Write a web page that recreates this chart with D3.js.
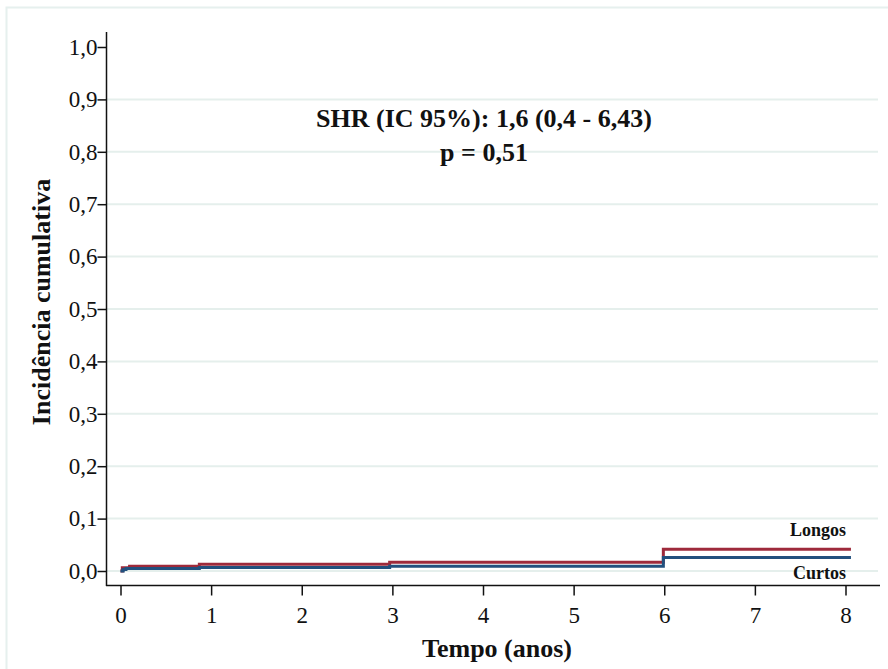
<!DOCTYPE html>
<html>
<head>
<meta charset="utf-8">
<script src="https://cdn.jsdelivr.net/npm/d3@7"></script>
<style>
  body { margin: 0; background: #fff; }
  svg text { font-family: "Liberation Serif", "Times New Roman", "DejaVu Serif", serif; fill: #111; }
</style>
</head>
<body>
<div id="chart"></div>
<script>
// step points: [time, cumulative incidence]
const longosTimes  = [0, 0.02, 0.1, 0.87, 2.97, 5.99, 8.06];
const longosValues = [0, 0.006, 0.009, 0.0128, 0.0166, 0.0414, 0.0414];
const curtosTimes  = [0, 0.03, 0.06, 0.87, 2.97, 5.99, 8.06];
const curtosValues = [0, 0.003, 0.0046, 0.0065, 0.0092, 0.0256, 0.0256];

const yTicks = [0, 0.1, 0.2, 0.3, 0.4, 0.5, 0.6, 0.7, 0.8, 0.9, 1.0];
const xTicks = [0, 1, 2, 3, 4, 5, 6, 7, 8];
const gridTicks = [0, 0.1, 0.2, 0.3, 0.4, 0.5, 0.6, 0.7, 0.8, 0.9];

const annotation = ["SHR (IC 95%): 1,6 (0,4 - 6,43)", "p = 0,51"];
const seriesLabels = ["Longos", "Curtos"];

const width = 888, height = 669;
const xScale = d3.scaleLinear().domain([0, 8]).range([120.5, 845.5]);
const yScale = d3.scaleLinear().domain([0, 1]).range([571, 47]);

const svg = d3.select("#chart").append("svg")
    .attr("width", width)
    .attr("height", height);

// outer frame
svg.append("rect")
    .attr("x", 6.5).attr("y", 7.5)
    .attr("width", 900).attr("height", 700)
    .attr("fill", "none")
    .attr("stroke", "#e6f0ee")
    .attr("stroke-width", 2);

// gridlines
svg.append("g")
    .selectAll("line")
    .data(gridTicks)
    .enter()
    .append("line")
    .attr("x1", 106).attr("x2", 878)
    .attr("y1", d => yScale(d)).attr("y2", d => yScale(d))
    .attr("stroke", "#e5efec")
    .attr("stroke-width", 2);

// series
const line = d3.line()
    .curve(d3.curveStepAfter)
    .x(d => xScale(d[0]))
    .y(d => yScale(d[1]));

const series = [
  { times: longosTimes, values: longosValues, color: "#9e2a3b" },
  { times: curtosTimes, values: curtosValues, color: "#22507e" }
];

svg.append("g")
    .selectAll("path")
    .data(series)
    .enter()
    .append("path")
    .attr("fill", "none")
    .attr("stroke", d => d.color)
    .attr("stroke-width", 3)
    .attr("d", d => line(d.times.map((t, i) => [t, d.values[i]])));

// axes
const xAxis = d3.axisBottom(xScale)
    .tickValues(xTicks)
    .tickSize(10)
    .tickPadding(11)
    .tickSizeOuter(0)
    .tickFormat(d3.format("d"));

const yAxis = d3.axisLeft(yScale)
    .tickValues(yTicks)
    .tickSize(9)
    .tickPadding(0)
    .tickSizeOuter(0)
    .tickFormat(d => d.toFixed(1).replace(".", ","));

const gx = svg.append("g")
    .attr("transform", "translate(0,585.5)")
    .call(xAxis);
gx.select(".domain").attr("d", "M106,0H880").attr("stroke", "#111").attr("stroke-width", 1.5);
gx.selectAll(".tick line").attr("stroke", "#111").attr("stroke-width", 1.5);
gx.selectAll(".tick text").style("font-size", "23px");

const gy = svg.append("g")
    .attr("transform", "translate(106.5,0)")
    .call(yAxis);
gy.select(".domain").attr("d", "M0,32V586").attr("stroke", "#111").attr("stroke-width", 1.5);
gy.selectAll(".tick line").attr("stroke", "#111").attr("stroke-width", 1.5);
gy.selectAll(".tick text").style("font-size", "23px");

// axis titles
svg.append("text")
    .attr("x", 497).attr("y", 657)
    .attr("text-anchor", "middle")
    .style("font-size", "26px")
    .style("font-weight", "bold")
    .text("Tempo (anos)");

svg.append("text")
    .attr("transform", "translate(50,302) rotate(-90)")
    .attr("text-anchor", "middle")
    .style("font-size", "26px")
    .style("font-weight", "bold")
    .text("Incidência cumulativa");

// annotation
svg.append("g")
    .selectAll("text")
    .data(annotation)
    .enter()
    .append("text")
    .attr("x", 484)
    .attr("y", (_, i) => 127 + i * 34)
    .attr("text-anchor", "middle")
    .style("font-size", "26px")
    .style("font-weight", "bold")
    .text(d => d);

// series labels
svg.append("g")
    .selectAll("text")
    .data(seriesLabels)
    .enter()
    .append("text")
    .attr("x", 846)
    .attr("y", (_, i) => i === 0 ? 536 : 579)
    .attr("text-anchor", "end")
    .style("font-size", "18px")
    .style("font-weight", "bold")
    .text(d => d);
</script>
</body>
</html>
